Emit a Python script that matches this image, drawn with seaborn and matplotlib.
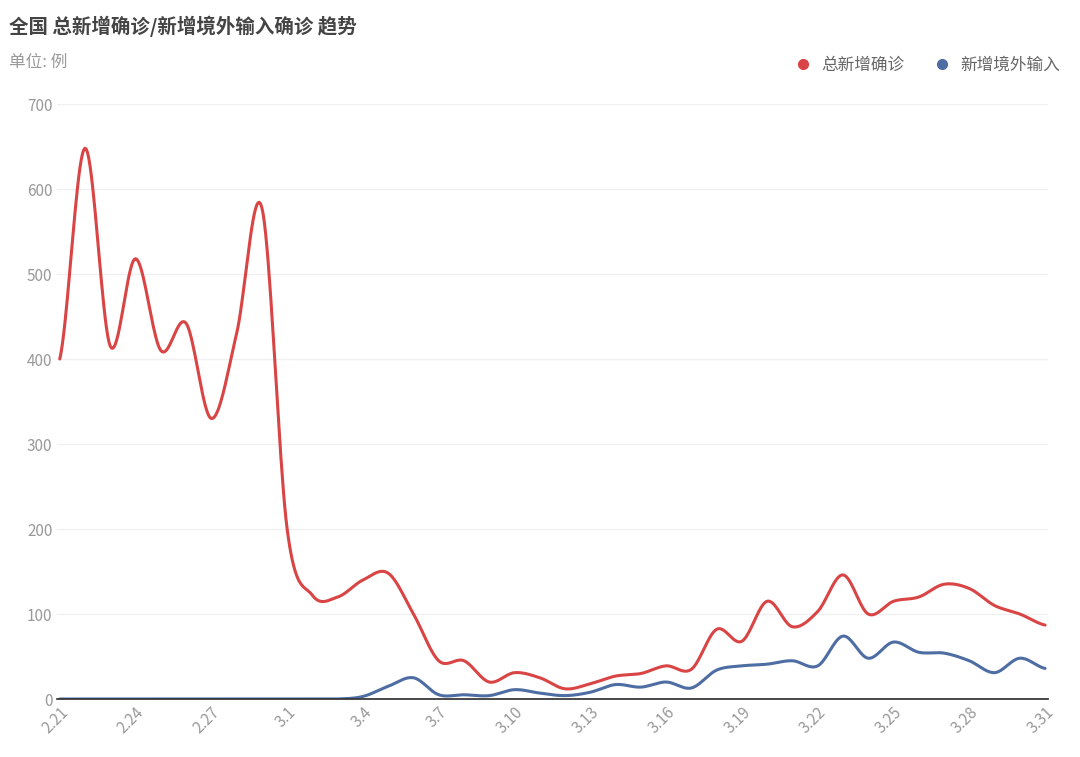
import numpy as np
import pandas as pd
import matplotlib
matplotlib.use("Agg")
import matplotlib.pyplot as plt
import seaborn as sns
from matplotlib.lines import Line2D

dates = ["2.21","2.22","2.23","2.24","2.25","2.26","2.27","2.28","2.29"] + [f"3.{d}" for d in range(1, 32)]
total_new = [400, 648, 415, 518, 410, 442, 330, 430, 578, 200, 122, 120, 140, 148, 100,
             45, 45, 20, 31, 25, 12, 18, 27, 30, 39, 35, 82, 68, 115, 85, 103, 146,
             100, 115, 120, 135, 130, 110, 100, 87]
imported = [0]*12 + [3, 15, 25, 5, 5, 4, 11, 7, 4, 8, 17, 14, 20, 13, 34, 39, 41, 45, 39,
                     74, 48, 67, 55, 54, 45, 31, 48, 36]

sns.set_theme(style="white")
plt.rcParams['font.family'] = ['Noto Sans CJK SC', 'DejaVu Sans']

def smooth(y, n=20):
    y = np.asarray(y, float)
    p = np.concatenate([[y[0]], y, [y[-1]]])
    xs, ys = [], []
    for i in range(len(y) - 1):
        p0, p1, p2, p3 = p[i], p[i+1], p[i+2], p[i+3]
        t = np.linspace(0, 1, n, endpoint=False)
        v = 0.5*((2*p1) + (-p0+p2)*t + (2*p0-5*p1+4*p2-p3)*t**2 + (-p0+3*p1-3*p2+p3)*t**3)
        xs.append(i + t); ys.append(v)
    xs.append([len(y)-1]); ys.append([y[-1]])
    return np.concatenate(xs), np.concatenate(ys)

red, blue = "#d94444", "#4e6da3"
fig = plt.figure(figsize=(10.8, 7.57), dpi=100)
ax = fig.add_axes([0.053, 0.0766, 0.917, 0.786])
for vals, c in [(total_new, red), (imported, blue)]:
    x, y = smooth(vals)
    sns.lineplot(x=x, y=np.maximum(y, 0), ax=ax, color=c, lw=2.2, sort=False)

ax.set_xlim(-0.1, len(dates) - 0.9)
ax.set_ylim(0, 700)
ax.set_yticks(range(0, 701, 100))
ax.set_xticks(range(0, len(dates), 3))
ax.set_xticklabels(dates[::3], rotation=45, ha="right", rotation_mode="anchor")
ax.tick_params(colors="#999999", labelsize=11, length=0)
ax.grid(axis="y", color="#f0f0f0", lw=1)
for s in ["top", "right", "left"]:
    ax.spines[s].set_visible(False)
ax.spines["bottom"].set_color("#333333")
ax.set_xlabel(""); ax.set_ylabel("")

fig.text(0.008, 0.965, "全国 总新增确诊/新增境外输入确诊 趋势", fontsize=14, fontweight="bold", color="#444444", va="center")
fig.text(0.008, 0.918, "单位: 例", fontsize=12, color="#999999", va="center")
handles = [Line2D([], [], marker="o", ls="", color=red, markersize=7),
           Line2D([], [], marker="o", ls="", color=blue, markersize=7)]
fig.legend(handles, ["总新增确诊", "新增境外输入"], loc="center right", bbox_to_anchor=(0.995, 0.914),
           ncol=2, frameon=False, fontsize=12, labelcolor="#666666", handletextpad=0.1, columnspacing=1.2)
fig.savefig("out.png", dpi=100)
